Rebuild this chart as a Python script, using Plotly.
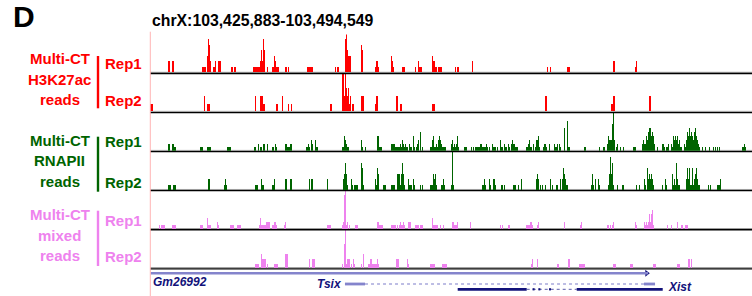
import plotly.graph_objects as go

# ---------------- data ----------------
CHROM = "chrX"
START = 103425883
END = 103494549
N_BINS = 602
BIN = (END - START) / N_BINS

# runs of bins: [first_bin, last_bin, read count]
H3K27AC_REP1 = [
    [18, 19, 2], [22, 23, 2], [52, 55, 1], [57, 57, 3], [58, 58, 6], [59, 59, 5], [60, 60, 2],
    [63, 64, 1], [65, 65, 2], [68, 70, 2], [81, 82, 1], [84, 85, 1], [103, 109, 1], [110, 110, 2],
    [111, 111, 4], [112, 112, 2], [113, 113, 6], [114, 114, 4], [117, 117, 1], [122, 123, 1],
    [124, 124, 3], [125, 125, 2], [126, 128, 1], [135, 136, 1], [138, 138, 1], [157, 162, 1],
    [185, 185, 1], [187, 188, 1], [195, 195, 6], [196, 196, 7], [197, 197, 4], [198, 200, 3],
    [211, 211, 5], [212, 212, 4], [225, 225, 1], [226, 227, 2], [228, 228, 1], [241, 241, 3],
    [242, 242, 2], [243, 243, 1], [252, 254, 1], [265, 265, 1], [268, 268, 2], [269, 271, 1],
    [282, 282, 3], [283, 284, 2], [285, 286, 1], [288, 291, 1], [305, 305, 1], [307, 308, 1],
    [322, 322, 2], [397, 397, 1], [400, 400, 1], [417, 419, 1], [463, 464, 2], [485, 485, 1],
    [486, 486, 2],
]
H3K27AC_REP2 = [
    [0, 2, 1], [54, 54, 2], [57, 59, 1], [105, 105, 2], [110, 112, 2], [113, 114, 1], [126, 127, 1],
    [132, 132, 2], [138, 138, 1], [141, 141, 1], [180, 181, 1], [192, 193, 5], [194, 194, 2],
    [195, 195, 5], [196, 196, 3], [197, 197, 2], [198, 198, 3], [199, 199, 1], [200, 200, 2],
    [202, 203, 1], [211, 213, 2], [225, 225, 1], [226, 227, 2], [246, 247, 2], [250, 251, 1],
    [282, 284, 1], [395, 396, 2], [461, 462, 1], [463, 464, 2], [499, 500, 2],
]
RNAPII_REP1 = [
    [18, 19, 2], [22, 23, 2], [24, 25, 1], [50, 52, 1], [57, 60, 1], [77, 80, 1], [104, 105, 1],
    [108, 108, 2], [110, 111, 1], [113, 114, 2], [117, 117, 2], [122, 123, 1], [125, 125, 2],
    [126, 126, 1], [135, 136, 2], [137, 139, 1], [140, 141, 2], [156, 157, 1], [158, 158, 2],
    [159, 159, 1], [161, 161, 3], [162, 162, 2], [165, 165, 3], [166, 167, 1], [192, 193, 1],
    [194, 194, 4], [195, 195, 3], [196, 196, 2], [197, 198, 1], [211, 211, 3], [212, 212, 1],
    [215, 215, 1], [227, 228, 4], [229, 231, 1], [241, 244, 2], [245, 249, 1], [250, 250, 2],
    [251, 251, 1], [252, 252, 3], [253, 253, 2], [254, 254, 1], [255, 255, 2], [256, 257, 1],
    [259, 259, 2], [260, 261, 1], [263, 263, 4], [264, 264, 1], [266, 266, 1], [267, 267, 2],
    [268, 268, 3], [270, 270, 5], [272, 272, 1], [280, 281, 1], [282, 282, 3], [283, 283, 4],
    [284, 285, 1], [286, 286, 2], [287, 287, 1], [288, 288, 3], [289, 289, 4], [290, 290, 3],
    [291, 291, 2], [292, 295, 1],
    [301, 301, 2], [302, 302, 3], [303, 303, 1], [304, 304, 2], [305, 305, 1], [306, 306, 2],
    [307, 307, 4], [308, 308, 1], [314, 316, 1], [321, 321, 1], [323, 323, 1], [325, 329, 1],
    [330, 331, 2], [332, 335, 1], [336, 336, 2], [337, 337, 1], [339, 339, 1], [342, 342, 2],
    [343, 345, 1], [347, 347, 1], [350, 350, 3], [351, 352, 1], [354, 354, 2], [355, 356, 1],
    [358, 358, 2], [359, 359, 1], [361, 361, 2], [362, 362, 3], [363, 364, 2], [365, 367, 1],
    [376, 377, 1], [378, 378, 2], [379, 379, 3], [380, 381, 1], [383, 383, 2], [385, 385, 1],
    [386, 387, 3], [388, 388, 4], [389, 389, 1], [393, 393, 1], [394, 395, 2], [396, 396, 1],
    [399, 399, 2], [404, 404, 2], [405, 406, 1], [407, 407, 2], [409, 409, 2], [410, 410, 1],
    [414, 414, 6], [417, 417, 8], [418, 419, 1], [434, 435, 1], [449, 449, 1], [453, 454, 1],
    [457, 457, 2], [458, 458, 4], [459, 461, 3], [462, 462, 7], [463, 463, 10], [464, 464, 3],
    [466, 466, 1], [467, 467, 2], [470, 470, 1], [473, 473, 1], [483, 485, 1], [492, 492, 2],
    [493, 493, 3], [494, 495, 2], [496, 496, 4], [497, 497, 3], [498, 498, 5], [499, 500, 6],
    [501, 501, 4], [502, 502, 5], [503, 503, 4], [504, 504, 2], [507, 507, 1], [512, 513, 2],
    [514, 514, 1], [516, 517, 1], [518, 518, 2], [521, 521, 2], [522, 522, 1], [523, 523, 4],
    [524, 524, 3], [525, 525, 4], [526, 526, 3], [527, 527, 4], [528, 528, 2], [529, 529, 3],
    [530, 531, 1], [534, 534, 2], [535, 535, 1], [536, 536, 3], [537, 537, 5], [538, 538, 4],
    [539, 539, 6], [540, 540, 4], [541, 541, 5], [542, 542, 4], [543, 543, 3], [544, 544, 5],
    [545, 545, 6], [546, 546, 4], [547, 547, 3], [548, 548, 2], [549, 549, 1], [552, 552, 1],
    [555, 555, 1], [559, 559, 1], [563, 563, 1], [565, 565, 1], [567, 567, 1], [569, 569, 1],
    [592, 593, 1], [594, 594, 2], [595, 595, 1],
]
RNAPII_REP2 = [
    [18, 20, 1], [23, 25, 1], [58, 59, 2], [74, 74, 1], [75, 75, 2], [76, 76, 1], [105, 107, 1],
    [111, 111, 2], [112, 113, 1], [122, 123, 1], [124, 124, 2], [135, 136, 2], [140, 141, 2],
    [159, 159, 2], [161, 162, 2], [177, 177, 2], [193, 193, 2], [194, 194, 3], [195, 195, 5],
    [196, 196, 3], [197, 197, 1], [201, 201, 2], [202, 202, 1], [204, 207, 1], [211, 211, 5],
    [212, 212, 4], [213, 213, 1], [225, 225, 2], [226, 226, 1], [227, 227, 4], [228, 228, 3],
    [233, 235, 1], [241, 244, 1], [247, 249, 3], [250, 250, 1], [251, 251, 3], [252, 252, 5],
    [253, 253, 3], [254, 254, 1], [258, 258, 2], [259, 261, 1], [263, 263, 2], [264, 264, 1],
    [270, 270, 1], [272, 272, 1], [280, 282, 1], [283, 283, 3], [284, 284, 2], [285, 285, 3],
    [286, 286, 1], [291, 292, 1], [293, 293, 2], [294, 294, 1],
    [301, 301, 1], [302, 302, 7], [303, 303, 1], [332, 333, 1], [334, 334, 2], [335, 335, 1],
    [339, 339, 2], [340, 340, 1], [343, 344, 2], [345, 345, 1], [351, 352, 1], [354, 354, 1],
    [363, 365, 1], [368, 368, 1], [371, 371, 2], [386, 386, 2], [387, 387, 3], [388, 388, 2],
    [390, 390, 1], [392, 392, 1], [395, 395, 1], [400, 400, 2], [402, 402, 1], [406, 407, 1],
    [410, 410, 2], [412, 412, 2], [413, 413, 4], [414, 414, 3], [415, 415, 2], [416, 417, 1],
    [441, 441, 1], [442, 442, 3], [443, 443, 1], [445, 445, 2], [448, 448, 2], [449, 449, 1],
    [458, 458, 1], [459, 459, 3], [460, 460, 6], [461, 461, 3], [462, 462, 5], [463, 463, 1],
    [467, 467, 1], [472, 473, 1], [486, 486, 1], [489, 489, 1], [494, 494, 2], [495, 495, 1],
    [497, 497, 4], [498, 498, 2], [499, 499, 3], [500, 500, 2], [501, 501, 3], [502, 502, 2],
    [503, 503, 1], [512, 512, 1], [515, 515, 2], [516, 516, 1], [522, 522, 3], [523, 523, 1],
    [524, 524, 2], [525, 525, 1], [526, 526, 5], [527, 527, 2], [528, 529, 1], [536, 536, 2],
    [537, 537, 4], [538, 538, 2], [539, 539, 4], [540, 541, 1], [542, 542, 4], [543, 543, 1],
    [544, 544, 2], [545, 545, 3], [546, 546, 4], [547, 547, 2], [548, 549, 1], [558, 558, 1],
    [560, 560, 1], [567, 569, 1], [570, 570, 2],
]
MIXED_REP1 = [
    [9, 9, 1], [11, 14, 1], [22, 25, 1], [50, 52, 1], [57, 57, 3], [58, 60, 1], [67, 67, 2],
    [68, 68, 1], [80, 83, 1], [87, 90, 1], [109, 109, 1], [110, 110, 3], [111, 115, 1],
    [116, 119, 2], [122, 123, 1], [124, 125, 2], [126, 126, 1], [134, 134, 1], [135, 135, 2],
    [177, 180, 1], [192, 192, 1], [193, 193, 2], [194, 194, 9], [195, 195, 10], [196, 196, 1],
    [197, 197, 2], [199, 199, 1], [205, 207, 1], [227, 228, 2], [229, 232, 1], [241, 245, 1],
    [247, 247, 1], [249, 249, 1], [250, 250, 2], [251, 252, 1], [253, 253, 2], [254, 254, 1],
    [258, 260, 2], [265, 268, 1], [270, 272, 1], [282, 282, 3], [283, 287, 1], [290, 290, 1],
    [293, 293, 1],
    [302, 303, 2], [304, 306, 1], [307, 307, 2], [320, 320, 2], [350, 350, 1], [352, 352, 1],
    [358, 359, 1], [376, 379, 1], [380, 381, 2], [382, 382, 1], [387, 387, 1], [388, 388, 2],
    [414, 414, 2], [430, 430, 1], [431, 431, 2], [457, 458, 1], [460, 460, 1], [462, 462, 1],
    [463, 463, 2], [485, 485, 2], [486, 486, 1], [494, 494, 2], [495, 495, 1], [496, 496, 2],
    [497, 497, 1], [498, 498, 2], [499, 499, 4], [500, 500, 2], [501, 501, 4], [502, 502, 5],
    [503, 503, 1], [517, 517, 1], [521, 521, 1], [527, 527, 2], [531, 532, 1], [535, 537, 1],
]
MIXED_REP2 = [
    [105, 108, 1], [111, 111, 3], [112, 115, 2], [117, 117, 1], [124, 127, 1], [135, 137, 3],
    [159, 159, 2], [162, 164, 2], [192, 192, 1], [194, 194, 5], [195, 195, 8], [196, 196, 1],
    [197, 199, 2], [201, 201, 1], [203, 203, 2], [204, 204, 1], [211, 211, 1], [213, 213, 3],
    [218, 219, 1], [220, 221, 2], [222, 226, 1], [227, 227, 2], [228, 228, 1], [246, 248, 2],
    [257, 257, 2], [258, 258, 1], [280, 284, 1], [292, 296, 1], [381, 381, 1], [382, 382, 2],
    [387, 387, 2], [407, 408, 1], [418, 419, 2], [429, 434, 1], [463, 465, 1], [480, 482, 1],
    [503, 505, 1], [527, 529, 1], [538, 539, 2], [541, 541, 2],
]
TRACK_MAX = [7, 5, 10, 7, 10, 8]   # autoscale maximum of each track

# gene models (genomic coordinates)
GM26992_EXONS = [[103425950, 103482700]]
TSIX_EXONS = [[103448120, 103450410], [103482230, 103483490]]
XIST_EXONS = [[103460980, 103468850], [103469520, 103469750], [103470180, 103470410],
              [103471395, 103471625], [103474555, 103484365]]

GROUPS = [
    ("Multi-CT", "H3K27ac", "reads"),
    ("Multi-CT", "RNAPII", "reads"),
    ("Multi-CT", "mixed", "reads"),
]
REPS = ["Rep1", "Rep2"]

# ---------------- styling / layout ----------------
W, H = 752, 296
PX_LEFT = 150.0
RED, GREEN, PINK = "#ff0000", "#006400", "#ee82ee"
NAVY = "#12127a"
GENE_LIGHT = "#8484cc"
FONT = "Liberation Sans, Arial, sans-serif"

TRACKS = [H3K27AC_REP1, H3K27AC_REP2, RNAPII_REP1, RNAPII_REP2, MIXED_REP1, MIXED_REP2]
COLORS = [RED, RED, GREEN, GREEN, PINK, PINK]
BASE0, STEP, TRACK_H = 72.7, 39.06, 38.3

# label placement (pixels from top)
GROUP_FIRST_LINE = [58.3, 140.0, 214.3]
LINE_STEP = 20.7
GROUP_BAR = [(56.0, 108.3), (136.7, 191.7), (210.7, 266.0)]
REP_Y = [(63.3, 100.0), (141.7, 182.3), (220.7, 256.0)]


def py(p):
    return 1 - p / H


def px(p):
    return p / W


fig = go.Figure()
layout = dict(
    width=W, height=H, margin=dict(l=0, r=0, t=0, b=0),
    plot_bgcolor="white", paper_bgcolor="white", barmode="overlay", bargap=0,
    showlegend=False,
    xaxis=dict(domain=[px(PX_LEFT), 1], range=[START, END], visible=False,
               fixedrange=True, anchor="y6"),
)
shapes = []
annotations = []

for i, (runs, color, vmax) in enumerate(zip(TRACKS, COLORS, TRACK_MAX)):
    base = BASE0 + i * STEP
    yname = "yaxis" if i == 0 else f"yaxis{i + 1}"
    layout[yname] = dict(domain=[py(base), py(base - TRACK_H)], range=[0, vmax],
                         visible=False, fixedrange=True, anchor="x")
    xs = [START + (a + b + 1) / 2 * BIN for a, b, v in runs]
    ws = [(b - a + 1) * BIN for a, b, v in runs]
    vs = [v for a, b, v in runs]
    fig.add_trace(go.Bar(x=xs, y=vs, width=ws, xaxis="x", yaxis="y" if i == 0 else f"y{i + 1}",
                         marker=dict(color=color, line=dict(width=0)), hoverinfo="skip"))
    # baseline
    shapes.append(dict(type="line", xref="paper", yref="paper", x0=px(PX_LEFT), x1=1,
                       y0=py(base - 0.4), y1=py(base - 0.4), line=dict(color="#9a9a9a", width=1),
                       layer="below"))
    shapes.append(dict(type="line", xref="paper", yref="paper", x0=px(PX_LEFT), x1=1,
                       y0=py(base + 0.8), y1=py(base + 0.8), line=dict(color="#000000", width=1.3)))

# gene track axis (value = pixels below the last baseline)
layout["yaxis7"] = dict(domain=[0, py(268)], range=[28, 0], visible=False,
                        fixedrange=True, anchor="x")
ROW_GM, ROW_TSIX, ROW_XIST = 5.3, 16.0, 21.3

# Gm26992
for s, e in GM26992_EXONS:
    shapes.append(dict(type="rect", xref="x", yref="y7", x0=s, x1=e, y0=ROW_GM - 1.3,
                       y1=ROW_GM + 1.3, fillcolor=GENE_LIGHT, line=dict(width=0)))
    fig.add_trace(go.Scatter(x=[e - 150], y=[ROW_GM], xaxis="x", yaxis="y7", mode="markers",
                             marker=dict(symbol="triangle-right", size=6, color=NAVY),
                             hoverinfo="skip"))

# Tsix
shapes.append(dict(type="line", xref="x", yref="y7", x0=TSIX_EXONS[0][1], x1=TSIX_EXONS[-1][0],
                   y0=ROW_TSIX, y1=ROW_TSIX, line=dict(color="#a8a8dc", width=1.6, dash="dot")))
for s, e in TSIX_EXONS:
    shapes.append(dict(type="rect", xref="x", yref="y7", x0=s, x1=e, y0=ROW_TSIX - 1.4,
                       y1=ROW_TSIX + 1.4, fillcolor=GENE_LIGHT, line=dict(width=0)))

# Xist
shapes.append(dict(type="line", xref="x", yref="y7", x0=XIST_EXONS[0][1], x1=XIST_EXONS[-1][0],
                   y0=ROW_XIST, y1=ROW_XIST, line=dict(color="#5a5aa8", width=1, dash="dot")))
for k, (s, e) in enumerate(XIST_EXONS):
    hh = 1.4 if (e - s) > 1000 else 1.1
    shapes.append(dict(type="rect", xref="x", yref="y7", x0=s, x1=e, y0=ROW_XIST - hh,
                       y1=ROW_XIST + hh, fillcolor=NAVY, line=dict(width=0)))

gene_font = dict(family=FONT, size=12, color=NAVY)
annotations.append(dict(xref="x", yref="y7", x=GM26992_EXONS[0][0], y=14.3, xanchor="left",
                        yanchor="middle", showarrow=False, text="<b><i>Gm26992</i></b>",
                        font=gene_font, xshift=0))
annotations.append(dict(xref="x", yref="y7", x=TSIX_EXONS[0][0], y=15.6, xanchor="right",
                        yanchor="middle", showarrow=False, text="<b><i>Tsix</i></b>",
                        font=gene_font, xshift=-1))
annotations.append(dict(xref="x", yref="y7", x=XIST_EXONS[-1][1], y=18.7, xanchor="left",
                        yanchor="middle", showarrow=False, text="<b><i>Xist</i></b>",
                        font=gene_font, xshift=3))

# left pink frame line
shapes.append(dict(type="line", xref="paper", yref="paper", x0=px(150.3), x1=px(150.3),
                   y0=0, y1=py(31.7), line=dict(color="#ffb4b4", width=1)))

# title and panel letter
annotations.append(dict(xref="paper", yref="paper", x=px(149.5), y=py(20.7), xanchor="left",
                        yanchor="middle", showarrow=False,
                        text=f"<b>{CHROM}:{START:,}-{END:,}</b>",
                        font=dict(family=FONT, size=15.8, color="black")))
annotations.append(dict(xref="paper", yref="paper", x=px(10.5), y=py(16.5), xanchor="left",
                        yanchor="middle", showarrow=False, text="<b>D</b>",
                        font=dict(family=FONT, size=30, color="black")))

# group labels
GROUP_COLORS = [RED, GREEN, PINK]
for g, (lines, col) in enumerate(zip(GROUPS, GROUP_COLORS)):
    for j, t in enumerate(lines):
        annotations.append(dict(xref="paper", yref="paper", x=px(59.5),
                                y=py(GROUP_FIRST_LINE[g] + j * LINE_STEP),
                                xanchor="center", yanchor="middle", showarrow=False,
                                text=f"<b>{t}</b>", font=dict(family=FONT, size=15, color=col)))
    y_top, y_bot = GROUP_BAR[g]
    shapes.append(dict(type="rect", xref="paper", yref="paper", x0=px(96.8), x1=px(99.2),
                       y0=py(y_top), y1=py(y_bot), fillcolor=col, line=dict(width=0)))
    for j, rep in enumerate(REPS):
        annotations.append(dict(xref="paper", yref="paper", x=px(143.5), y=py(REP_Y[g][j]),
                                xanchor="right", yanchor="middle", showarrow=False,
                                text=f"<b>{rep}</b>", font=dict(family=FONT, size=15, color=col)))

layout["shapes"] = shapes
layout["annotations"] = annotations
fig.update_layout(**layout)
fig.write_html("out.html", post_script="document.body.style.margin='0';",
               config={"displayModeBar": False})
